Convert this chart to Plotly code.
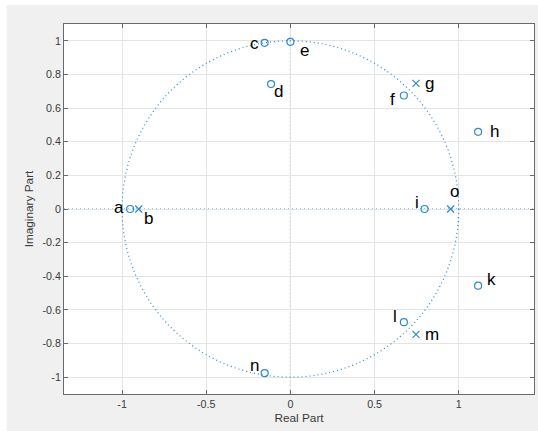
import plotly.graph_objects as go

# ---- data ----
zero_labels = ["a", "c", "d", "e", "f", "h", "i", "k", "l", "n"]
zero_re = [-0.952, -0.153, -0.115, 0.0, 0.674, 1.115, 0.797, 1.115, 0.674, -0.153]
zero_im = [0.0, 0.988, 0.743, 0.994, 0.675, 0.459, 0.0, -0.456, -0.673, -0.976]

pole_labels = ["b", "g", "m", "o"]
pole_re = [-0.901, 0.746, 0.746, 0.952]
pole_im = [0.0, 0.747, -0.745, 0.0]

# label offsets in screen pixels (dx right, dy up)
zero_off = {"a": (-11, 2), "c": (-10, -1), "d": (7, -7), "e": (14, -9), "f": (-11, -4),
            "h": (16, 0), "i": (-8, 7), "k": (13, 6), "l": (-9, 6), "n": (-10, 8)}
pole_off = {"b": (10, -9), "g": (14, 0), "m": (16, 0), "o": (4, 18)}

x_tickvals = [-1, -0.5, 0, 0.5, 1]
x_ticktext = ["-1", "-0.5", "0", "0.5", "1"]
y_tickvals = [-1, -0.8, -0.6, -0.4, -0.2, 0, 0.2, 0.4, 0.6, 0.8, 1]
y_ticktext = ["-1", "-0.8", "-0.6", "-0.4", "-0.2", "0", "0.2", "0.4", "0.6", "0.8", "1"]

BLUE = "#2a8ad0"
FONT = "Liberation Sans, Arial, sans-serif"

fig = go.Figure()

fig.add_trace(go.Scatter(
    x=zero_re, y=zero_im, mode="markers",
    marker=dict(symbol="circle-open", size=7, color=BLUE, line=dict(width=1.2, color=BLUE)),
    showlegend=False, hoverinfo="skip"))
fig.add_trace(go.Scatter(
    x=pole_re, y=pole_im, mode="markers",
    marker=dict(symbol="x-thin-open", size=7, color=BLUE, line=dict(width=1.2, color=BLUE)),
    showlegend=False, hoverinfo="skip"))

# unit circle and axes (dotted)
dot = dict(color=BLUE, width=1.2, dash="1px,3px")
fig.add_shape(type="circle", xref="x", yref="y", x0=-1, y0=-1, x1=1, y1=1,
              line=dot, layer="between")
fig.add_shape(type="line", xref="paper", yref="y", x0=0, x1=1, y0=0, y1=0,
              line=dot, layer="between")
fig.add_shape(type="line", xref="x", yref="paper", x0=0, x1=0, y0=0, y1=1,
              line=dot, layer="between")

# white strips outside the grey figure area
fig.add_shape(type="rect", xref="paper", yref="paper", x0=-0.2, x1=-0.1219, y0=-0.2, y1=1.2,
              fillcolor="white", line=dict(width=0), layer="above")
fig.add_shape(type="rect", xref="paper", yref="paper", x0=-0.2, x1=1.2, y0=1.0514, y1=1.2,
              fillcolor="white", line=dict(width=0), layer="above")

for lab, xr, yi in zip(zero_labels, zero_re, zero_im):
    dx, dy = zero_off[lab]
    fig.add_annotation(x=xr, y=yi, xref="x", yref="y", text=lab, showarrow=False,
                       xshift=dx, yshift=dy, font=dict(family=FONT, size=17, color="black"))
for lab, xr, yi in zip(pole_labels, pole_re, pole_im):
    dx, dy = pole_off[lab]
    fig.add_annotation(x=xr, y=yi, xref="x", yref="y", text=lab, showarrow=False,
                       xshift=dx, yshift=dy, font=dict(family=FONT, size=17, color="black"))

axis_common = dict(
    showgrid=True, gridcolor="#e4e4e4", gridwidth=1, zeroline=False,
    showline=True, linecolor="#6a6a6a", linewidth=1, mirror="ticks",
    ticks="inside", ticklen=4, tickcolor="#6a6a6a", tickwidth=1,
    tickfont=dict(family=FONT, size=10.7, color="#3a3a3a"),
)

fig.update_xaxes(range=[-1.345, 1.447], tickmode="array", tickvals=x_tickvals, ticktext=x_ticktext,
                 title=dict(text="Real Part", font=dict(family=FONT, size=11.8, color="#3a3a3a"), standoff=4),
                 **axis_common)
fig.update_yaxes(range=[-1.1, 1.1], tickmode="array", tickvals=y_tickvals, ticktext=y_ticktext,
                 title=dict(text="Imaginary Part", font=dict(family=FONT, size=11.8, color="#3a3a3a"), standoff=6),
                 **axis_common)

fig.update_layout(
    width=538, height=431,
    margin=dict(l=64.3, r=3.7, t=24, b=37, autoexpand=False),
    paper_bgcolor="#f0f0f0", plot_bgcolor="white",
    font=dict(family=FONT),
)

fig.write_html(
    "out.html",
    config={"displayModeBar": False},
    post_script="document.body.style.margin='0';document.body.style.padding='0';"
                "document.body.style.overflow='hidden';",
)
